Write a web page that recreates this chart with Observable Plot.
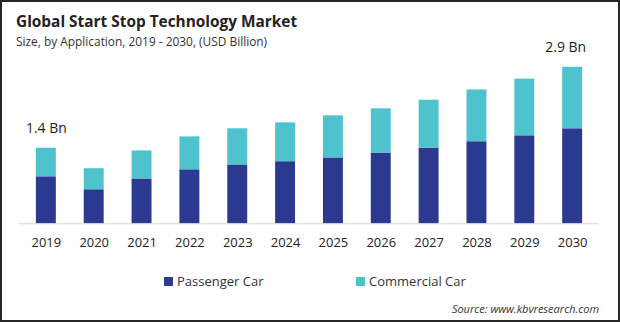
<!DOCTYPE html>
<html>
<head>
<meta charset="utf-8">
<script src="https://cdn.jsdelivr.net/npm/d3@7"></script>
<script src="https://cdn.jsdelivr.net/npm/@observablehq/plot@0.6"></script>
<style>
  html, body { margin: 0; padding: 0; background: #fff; }
  #frame { position: relative; width: 620px; height: 322px; box-sizing: border-box; border: 2px solid #262626; overflow: hidden; font-family: "Open Sans", sans-serif; color: #222; }
  #chart { position: absolute; left: -2px; top: -2px; }
  .title { position: absolute; left: 14px; top: 9px; font-size: 15.4px; font-weight: 700; color: #222; white-space: nowrap; }
  .subtitle { position: absolute; left: 14px; top: 31px; font-size: 11.9px; color: #333; white-space: nowrap; }
  .legend { position: absolute; top: 270px; font-size: 13px; color: #333; white-space: nowrap; display: flex; align-items: center; }
  .legend span.sw { display: inline-block; width: 9px; height: 9px; margin-right: 4px; }
  .source { position: absolute; right: 19px; top: 299px; font-size: 11px; font-style: italic; color: #333; white-space: nowrap; }
</style>
</head>
<body>
<div id="frame">
  <div id="chart"></div>
  <div class="title">Global Start Stop Technology Market</div>
  <div class="subtitle">Size, by Application, 2019 - 2030, (USD Billion)</div>
  <div id="legend"></div>
  <div class="source">Source: www.kbvresearch.com</div>
</div>
<script>
const years = ["2019","2020","2021","2022","2023","2024","2025","2026","2027","2028","2029","2030"];
const seriesNames = ["Passenger Car", "Commercial Car"];
const seriesColors = ["#2B3990", "#4FC3CD"];
const passenger = [0.87, 0.63, 0.83, 1.00, 1.09, 1.15, 1.22, 1.31, 1.40, 1.52, 1.63, 1.76];
const commercial = [0.53, 0.39, 0.52, 0.61, 0.67, 0.72, 0.78, 0.82, 0.89, 0.96, 1.05, 1.14];
const labelYears = ["2019", "2030"];
const labelTexts = ["1.4 Bn", "2.9 Bn"];

const rows = [];
years.forEach((y, i) => {
  rows.push({year: y, series: seriesNames[0], value: passenger[i]});
  rows.push({year: y, series: seriesNames[1], value: commercial[i]});
});
const labels = labelYears.map((y, i) => {
  const k = years.indexOf(y);
  return {year: y, total: passenger[k] + commercial[k], text: labelTexts[i]};
});

const chart = Plot.plot({
  width: 620,
  height: 260,
  marginLeft: 19,
  marginRight: 19,
  marginTop: 67,
  marginBottom: 36,
  style: {fontFamily: "'Open Sans', sans-serif", background: "transparent"},
  x: {domain: years, paddingInner: 0.59, paddingOuter: 0.295, label: null},
  y: {domain: [0, 2.9], axis: null},
  color: {domain: seriesNames, range: seriesColors},
  marks: [
    Plot.barY(rows, {x: "year", y: "value", fill: "series"}),
    Plot.ruleY([0], {stroke: "#d4d4d4", strokeWidth: 1}),
    Plot.axisX({tickSize: 0, tickPadding: 14, fontSize: 13, fill: "#222", label: null}),
    Plot.text(labels.slice(0, 1), {x: "year", y: "total", text: "text", dy: -20, fontSize: 14, fill: "#222"}),
    Plot.text(labels.slice(1), {x: "year", y: "total", text: "text", dy: -20, dx: -7, fontSize: 14, fill: "#222"})
  ]
});
document.getElementById("chart").appendChild(chart);

const legend = document.getElementById("legend");
const legendX = [164, 356];
seriesNames.forEach((name, i) => {
  const item = document.createElement("div");
  item.className = "legend";
  item.style.left = (legendX[i] - 2) + "px";
  const sw = document.createElement("span");
  sw.className = "sw";
  sw.style.background = seriesColors[i];
  item.appendChild(sw);
  item.appendChild(document.createTextNode(name));
  legend.appendChild(item);
});
</script>
</body>
</html>
